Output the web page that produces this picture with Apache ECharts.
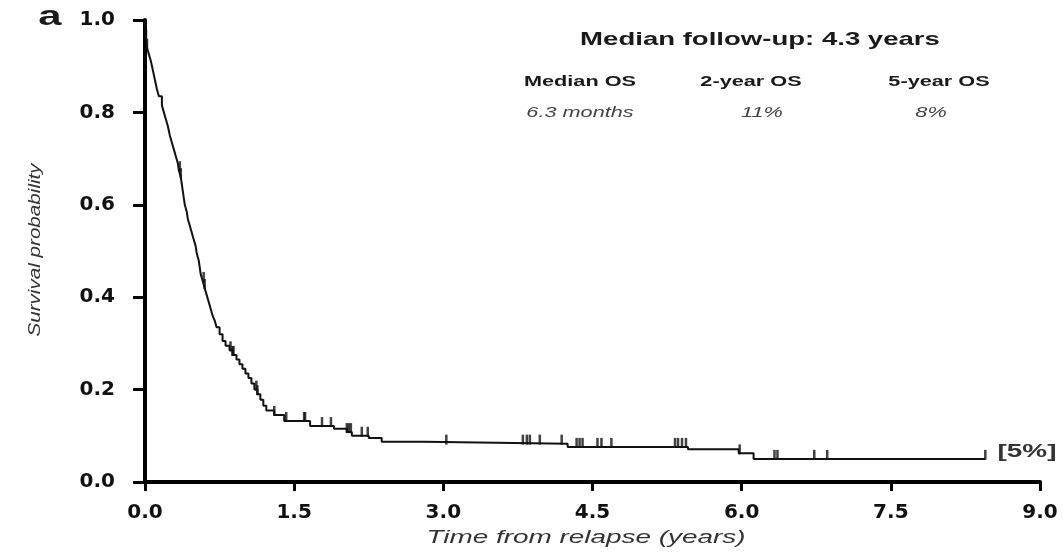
<!DOCTYPE html>
<html>
<head>
<meta charset="utf-8">
<script src="https://cdn.jsdelivr.net/npm/echarts@6/dist/echarts.min.js"></script>
<style>
  html, body { margin: 0; padding: 0; background: #fff; }
  #chart { width: 1063px; height: 557px; }
</style>
</head>
<body>
<div id="chart"></div>
<script>
// Kaplan-Meier estimate: event times (years) and survival after each step
const eventTimes = [0, 0.01, 0.02, 0.04, 0.06, 0.08, 0.10, 0.12, 0.14, 0.17, 0.19, 0.21, 0.23, 0.25, 0.27,
  0.29, 0.31, 0.33, 0.34, 0.36, 0.37, 0.38, 0.39, 0.40, 0.42, 0.43, 0.45, 0.47, 0.49, 0.51, 0.52, 0.54,
  0.55, 0.56, 0.58, 0.60, 0.62, 0.64, 0.66, 0.68, 0.70, 0.72, 0.75, 0.78, 0.81, 0.85, 0.88, 0.92, 0.95,
  0.98, 1.01, 1.04, 1.07, 1.10, 1.13, 1.16, 1.19, 1.22, 1.30, 1.40, 1.66, 1.90, 2.03, 2.08, 2.25, 2.38,
  2.81, 4.25, 5.46, 5.97, 6.12, 8.45];
const survival = [1.0, 0.96, 0.94, 0.925, 0.91, 0.89, 0.87, 0.85, 0.835, 0.815, 0.80, 0.785, 0.77, 0.75, 0.735,
  0.72, 0.705, 0.69, 0.675, 0.66, 0.645, 0.63, 0.615, 0.60, 0.585, 0.57, 0.555, 0.54, 0.525, 0.51, 0.495, 0.48,
  0.465, 0.45, 0.435, 0.42, 0.405, 0.39, 0.375, 0.36, 0.35, 0.335, 0.32, 0.305, 0.295, 0.285, 0.275, 0.265, 0.255,
  0.245, 0.235, 0.225, 0.213, 0.20, 0.19, 0.178, 0.165, 0.155, 0.145, 0.132, 0.121, 0.115, 0.108, 0.100, 0.095, 0.087,
  0.083, 0.076, 0.071, 0.062, 0.05, 0.05];
// censored observations (years)
const censorTimes = [0.01, 0.02, 0.35, 0.36, 0.59, 0.60, 0.86, 0.88, 0.89, 1.12, 1.13, 1.30, 1.42, 1.60, 1.61,
  1.78, 1.87, 2.03, 2.05, 2.07, 2.18, 2.24, 3.03, 3.80, 3.84, 3.87, 3.97, 4.19, 4.34, 4.37, 4.40, 4.55, 4.59,
  4.69, 5.33, 5.36, 5.40, 5.44, 5.98, 6.33, 6.36, 6.73, 6.86, 8.45];
const yTicks = [0, 0.2, 0.4, 0.6, 0.8, 1.0];
const xTicks = [0, 1.5, 3, 4.5, 6, 7.5, 9];

function survAt(t) {
  let s = 1;
  for (let i = 0; i < eventTimes.length; i++) {
    if (eventTimes[i] <= t) s = survival[i];
  }
  return s;
}

const kmData = eventTimes.map((t, i) => [t, survival[i]]);
const censorData = censorTimes.map(t => [t, survAt(t)]);

const chart = echarts.init(document.getElementById('chart'));
const tickFont = { fontFamily: 'DejaVu Sans', fontWeight: 'bold', fontSize: 20, color: '#111' };
const stretchedText = (x, y, text, size, extra) => Object.assign({
  type: 'text', x: x, y: y, scaleX: 1.55,
  style: Object.assign({
    text: text, fontFamily: 'Liberation Sans', fontSize: size, fontWeight: 'bold',
    fill: '#1a1a1a', textAlign: 'center', textVerticalAlign: 'middle'
  }, extra || {})
});

chart.setOption({
  animation: false,
  grid: { left: 145, right: 23, top: 20, bottom: 75 },
  xAxis: {
    type: 'value', min: 0, max: 9, interval: 1.5,
    axisLine: { lineStyle: { color: '#000', width: 4 } },
    axisTick: { length: 9, lineStyle: { color: '#000', width: 3 } },
    axisLabel: Object.assign({ margin: 21, formatter: v => xTicks.includes(v) ? v.toFixed(1) : '' }, tickFont),
    splitLine: { show: false }
  },
  yAxis: {
    type: 'value', min: 0, max: 1, interval: 0.2,
    axisLine: { show: true, lineStyle: { color: '#000', width: 4 } },
    axisTick: { show: true, length: 12, lineStyle: { color: '#000', width: 3 } },
    axisLabel: Object.assign({ margin: 30, formatter: v => yTicks.includes(+v.toFixed(1)) ? v.toFixed(1) : '' }, tickFont),
    splitLine: { show: false }
  },
  series: [
    {
      type: 'line', step: 'end', data: kmData, showSymbol: false,
      lineStyle: { color: '#111', width: 2 }
    },
    {
      type: 'scatter', data: censorData, symbol: 'rect', symbolSize: [2.5, 10], symbolOffset: [0, -4],
      itemStyle: { color: '#111' }
    }
  ],
  graphic: [
    stretchedText(50, 18, 'a', 27),
    Object.assign(stretchedText(760, 40, 'Median follow-up: 4.3 years', 19), { scaleX: 1.45 }),
    stretchedText(580, 82, 'Median OS', 14),
    stretchedText(751, 82, '2-year OS', 14),
    stretchedText(939, 82, '5-year OS', 14),
    stretchedText(580, 113, '6.3 months', 14, { fontWeight: 'normal', fontStyle: 'italic', fill: '#444' }),
    stretchedText(762, 113, '11%', 14, { fontWeight: 'normal', fontStyle: 'italic', fill: '#444' }),
    stretchedText(931, 113, '8%', 14, { fontWeight: 'normal', fontStyle: 'italic', fill: '#444' }),
    stretchedText(1027, 452, '[5%]', 18, { fill: '#333' }),
    stretchedText(586, 538, 'Time from relapse (years)', 18, { fontWeight: 'normal', fontStyle: 'italic', fill: '#333' }),
    Object.assign(stretchedText(36, 250, 'Survival probability', 16, { fontWeight: 'normal', fontStyle: 'italic', fill: '#333' }),
      { rotation: Math.PI / 2, scaleX: 1.29 })
  ]
});
</script>
</body>
</html>
